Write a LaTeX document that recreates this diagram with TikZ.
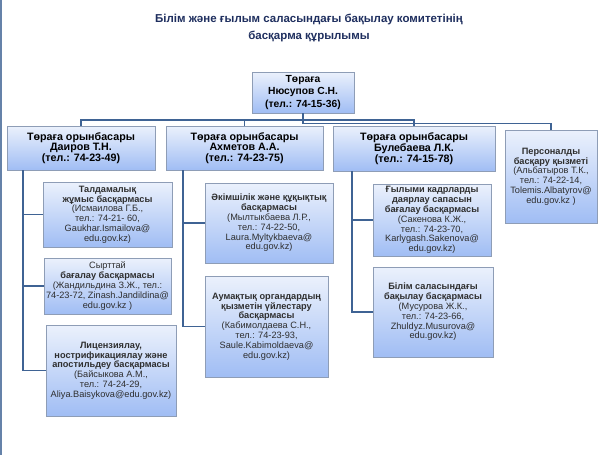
\documentclass[tikz,border=0pt]{standalone}
\usepackage{fontspec}
\setmainfont{Liberation Sans}
\usetikzlibrary{shadows}
\definecolor{boxtop}{HTML}{EBF1FC}
\definecolor{boxbot}{HTML}{A0BDF4}
\definecolor{boxline}{HTML}{8E9DB6}
\definecolor{conn}{HTML}{3F6394}
\definecolor{titleblue}{HTML}{1F2F5F}
\definecolor{txtgray}{HTML}{2E2E2E}
\newcommand{\B}[1]{\textbf{#1}}
\begin{document}
\begin{tikzpicture}[x=1pt,y=-1pt,
  orgbox/.style={draw=boxline, line width=0.6pt, top color=boxtop, bottom color=boxbot,
    drop shadow={shadow xshift=1.2pt,shadow yshift=-1.2pt,opacity=0.35,fill=gray},
    inner sep=1pt, align=center},
  chiefbox/.style={orgbox, font=\fontsize{10.3}{12.5}\selectfont\bfseries},
  deputybox/.style={orgbox, font=\fontsize{10.7}{10.7}\selectfont\bfseries},
  unitbox/.style={orgbox, font=\fontsize{9.2}{9.8}\selectfont, text=txtgray},
  link/.style={draw=conn, line width=1.9pt},
  frameline/.style={draw=conn!80, line width=1.2pt}]
\fill[white] (0,0) rectangle (600,455);
\useasboundingbox (0,0) rectangle (600,455);
\draw[frameline] (1,0) -- (1,455);

\node[font=\fontsize{11.5}{16.5}\selectfont\bfseries, text=titleblue, align=center] (title) at (309,28)
  {Білім және ғылым саласындағы бақылау комитетінің\\басқарма құрылымы};

\node[chiefbox, minimum width=102, minimum height=41] (top) at (303,92.5)
  {Төраға\\Нюсупов С.Н.\\(тел.: 74-15-36)};

\node[deputybox, minimum width=148, minimum height=44] (dai) at (81,148)
  {Төраға орынбасары\\Даиров Т.Н.\\(тел.: 74-23-49)};
\node[deputybox, minimum width=157, minimum height=44] (akh) at (244.5,148)
  {Төраға орынбасары\\Ахметов А.А.\\(тел.: 74-23-75)};
\node[deputybox, minimum width=162, minimum height=45] (bul) at (414,148.5)
  {Төраға орынбасары\\Булебаева Л.К.\\(тел.: 74-15-78)};
\node[unitbox, minimum width=92, minimum height=93] (pers) at (551,176.5)
  {\B{Персоналды}\\\B{басқару қызметі}\\(Альбатыров Т.К.,\\тел.: 74-22-14,\\Tolemis.Albatyrov@\\edu.gov.kz )};

\node[unitbox, minimum width=129, minimum height=65] (l1) at (107.5,214.5)
  {\B{Талдамалық}\\\B{жұмыс басқармасы}\\(Исмаилова Г.Б.,\\тел.: 74-21- 60,\\Gaukhar.Ismailova@\\edu.gov.kz)};
\node[unitbox, minimum width=127, minimum height=56] (l2) at (107.5,286)
  {Сырттай\\\B{бағалау басқармасы}\\(Жандильдина  З.Ж., тел.:\\74-23-72, Zinash.Jandildina@\\edu.gov.kz )};
\node[unitbox, minimum width=130, minimum height=91] (l3) at (111,370.5)
  {\B{Лицензиялау,}\\\B{нострификациялау және}\\\B{апостильдеу басқармасы}\\(Байсыкова А.М.,\\тел.: 74-24-29,\\Aliya.Baisykova@edu.gov.kz)};

\node[unitbox, minimum width=128, minimum height=80] (m1) at (269,223)
  {\B{Әкімшілік және құқықтық}\\\B{басқармасы}\\(Мылтыкбаева Л.Р.,\\тел.: 74-22-50,\\Laura.Myltykbaeva@\\edu.gov.kz)};
\node[unitbox, minimum width=123, minimum height=101] (m2) at (266.5,326.5)
  {\B{Аумақтық органдардың}\\\B{қызметін үйлестару}\\\B{басқармасы}\\(Кабимолдаева  С.Н.,\\тел.: 74-23-93,\\Saule.Kabimoldaeva@\\edu.gov.kz)};

\node[unitbox, minimum width=118, minimum height=72] (r1) at (432,220)
  {\B{Ғылыми кадрларды}\\\B{даярлау сапасын}\\\B{бағалау басқармасы}\\(Сакенова К.Ж.,\\тел.: 74-23-70,\\Karlygash.Sakenova@\\edu.gov.kz)};
\node[unitbox, minimum width=120, minimum height=90] (r2) at (433,312)
  {\B{Білім саласындағы}\\\B{бақылау басқармасы}\\(Мусурова Ж.К.,\\тел.: 74-23-66,\\Zhuldyz.Musurova@\\edu.gov.kz)};

\coordinate (bus) at (303,120);
\coordinate (bus2) at (303,123.5);
\draw[link] (top.south) -- (bus2);
\draw[link] (bus) -| (dai.north);
\draw[link] (bus) -| (akh.north);
\draw[link] (bus) -| (bul.north);
\draw[link] (bus2) -| (pers.north);

\coordinate (dv) at ([xshift=16pt]dai.south west);
\draw[link] (dv) |- (l1.west);
\draw[link] (dv) |- (l2.west);
\draw[link] (dv) |- (l3.west);
\coordinate (av) at ([xshift=17pt]akh.south west);
\draw[link] (av) |- (m1.west);
\draw[link] (av) |- (m2.west);
\coordinate (bv) at ([xshift=19pt]bul.south west);
\draw[link] (bv) |- (r1.west);
\draw[link] (bv) |- (r2.west);
\end{tikzpicture}
\end{document}
